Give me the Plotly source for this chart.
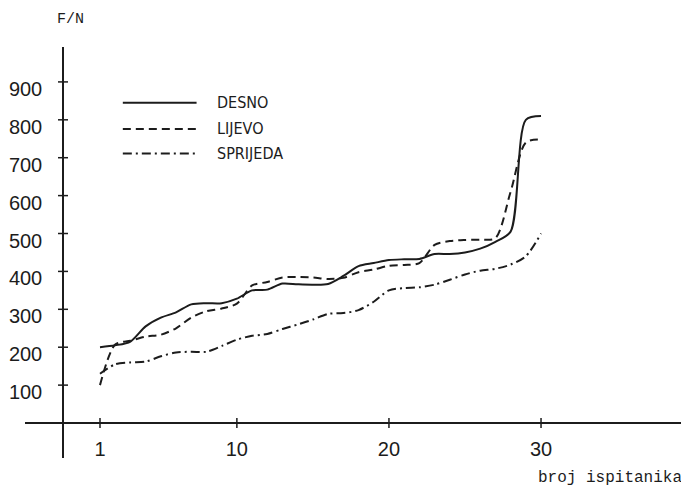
import plotly.graph_objects as go

# ---- data ----
subjects = list(range(1, 31))
desno = [200, 205, 215, 255, 278, 292, 313, 316, 316, 328,
         350, 352, 368, 366, 365, 367, 388, 414, 422, 430,
         432, 433, 446, 446, 450, 460, 478, 505, 800, 810]
lijevo = [100, 207, 217, 228, 233, 250, 278, 295, 302, 315,
          363, 372, 384, 385, 384, 380, 383, 398, 405, 415,
          417, 422, 470, 480, 483, 484, 488, 610, 740, 748]
sprijeda = [130, 155, 160, 162, 176, 186, 188, 188, 203, 220,
            230, 235, 248, 260, 273, 288, 290, 298, 320, 350,
            356, 358, 365, 378, 392, 402, 407, 418, 440, 500]
series_names = ["DESNO", "LIJEVO", "SPRIJEDA"]
x_ticks = [1, 10, 20, 30]
y_ticks = [100, 200, 300, 400, 500, 600, 700, 800, 900]

# ---- styling / geometry (page has an 8px body margin) ----
INK = "#1c1c1c"
W, H = 681, 479
ML, MR, MT, MB = 17, 0, 39, 29
X_RANGE = [-3.932, 39.73]
Y_RANGE = [-92.3, 992.1]
Y_AXIS_X = -1.433
styles = {"DESNO": "solid", "LIJEVO": "8px,5px", "SPRIJEDA": "9px,4px,2px,4px"}

fig = go.Figure()
for name, vals in zip(series_names, [desno, lijevo, sprijeda]):
    fig.add_trace(go.Scatter(
        x=subjects, y=vals, mode="lines", name=name,
        line=dict(color=INK, width=2, dash=styles[name], shape="spline", smoothing=0.8),
        showlegend=False, hoverinfo="skip"))

plot_w = W - ML - MR
plot_h = H - MT - MB
ypos = (Y_AXIS_X - X_RANGE[0]) / (X_RANGE[1] - X_RANGE[0])
xpos = (0 - Y_RANGE[0]) / (Y_RANGE[1] - Y_RANGE[0])


def px_to_paper(px, py):
    return (px - ML) / plot_w, 1 - (py - MT) / plot_h


tick_font = dict(family="Liberation Sans, Arial, sans-serif", size=20, color=INK)

fig.update_layout(
    width=W, height=H,
    margin=dict(l=ML, r=MR, t=MT, b=MB),
    plot_bgcolor="white", paper_bgcolor="white",
    xaxis=dict(range=X_RANGE, anchor="free", position=xpos, showline=True,
               linecolor=INK, linewidth=1.5, showgrid=False, zeroline=False,
               tickvals=x_ticks, ticks="", tickfont=tick_font,
               ticklabelstandoff=8),
    yaxis=dict(range=Y_RANGE, anchor="free", position=ypos, showline=True,
               linecolor=INK, linewidth=1.5, showgrid=False, zeroline=False,
               tickvals=y_ticks, ticks="", tickfont=tick_font,
               ticklabelstandoff=16, ticklabelshift=7),
)

# crossing tick marks
for v in y_ticks:
    fig.add_shape(type="line", xref="x", yref="y", xsizemode="pixel",
                  xanchor=Y_AXIS_X, x0=-5, x1=5, y0=v, y1=v,
                  line=dict(color=INK, width=1.5))
for v in x_ticks:
    fig.add_shape(type="line", xref="x", yref="y", ysizemode="pixel",
                  yanchor=0, y0=-5, y1=5, x0=v, x1=v,
                  line=dict(color=INK, width=1.5))

# custom legend
legend_y = [845, 776, 711]
for name, ly in zip(series_names, legend_y):
    fig.add_shape(type="line", xref="x", yref="y", x0=2.5, x1=7.35, y0=ly, y1=ly,
                  line=dict(color=INK, width=2, dash=styles[name]))
    fig.add_annotation(x=8.55, y=ly, xref="x", yref="y", text=name, showarrow=False,
                       xanchor="left", yanchor="middle",
                       font=dict(family="DejaVu Sans Condensed, DejaVu Sans, sans-serif",
                                 size=16, color=INK))

# axis titles
fx, fy = px_to_paper(62, 12)
fig.add_annotation(x=fx, y=fy, xref="paper", yref="paper", text="F/N",
                   showarrow=False, xanchor="center", yanchor="middle",
                   font=dict(family="Liberation Mono, Courier New, monospace", size=15, color=INK))
bx, by = px_to_paper(676, 470)
fig.add_annotation(x=bx, y=by, xref="paper", yref="paper", text="broj ispitanika",
                   showarrow=False, xanchor="right", yanchor="middle",
                   font=dict(family="Liberation Mono, Courier New, monospace", size=16, color=INK))

fig.write_html("out.html")
